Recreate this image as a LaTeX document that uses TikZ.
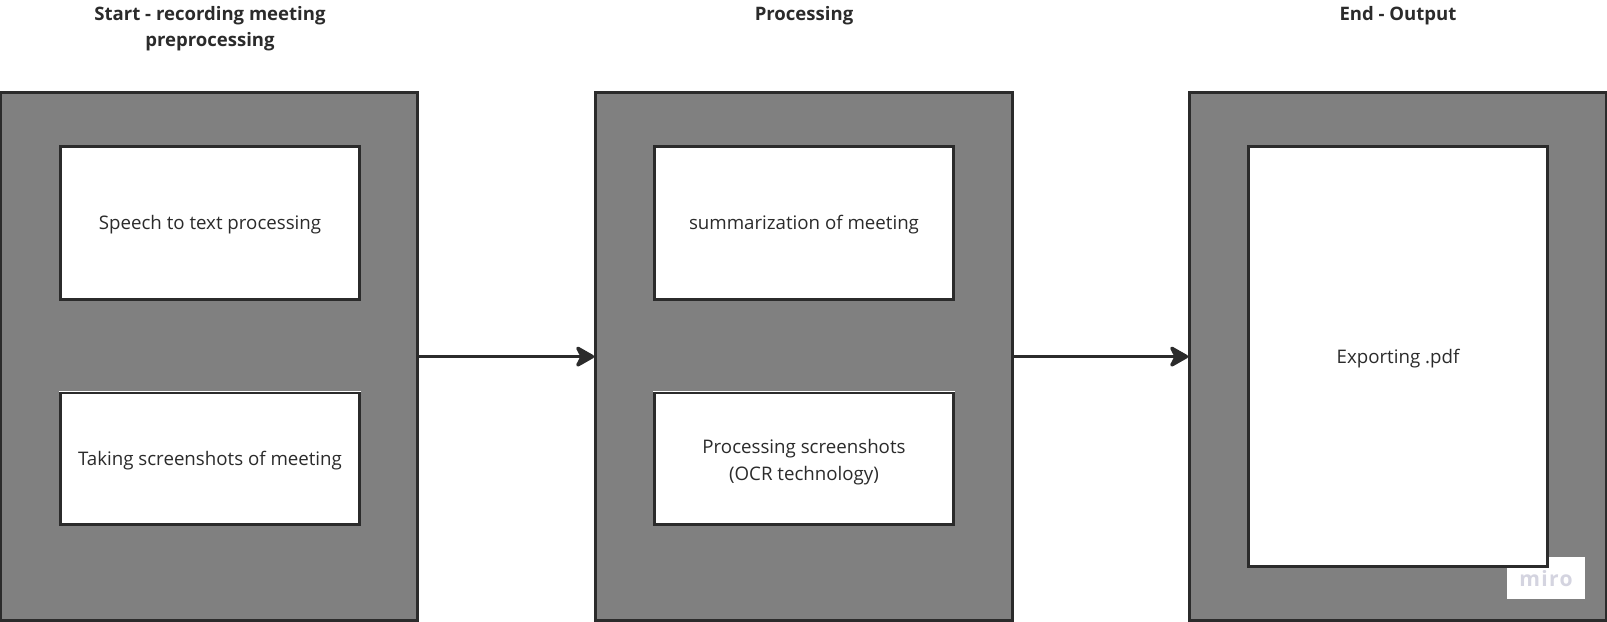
\documentclass[tikz,border=0pt]{standalone}
\usepackage{fontspec}
\setmainfont{Open Sans}
\definecolor{panelgray}{HTML}{808080}
\definecolor{inkdark}{HTML}{2B2B2B}
\definecolor{mirogray}{HTML}{D4D4E0}
\tikzset{
    panel/.style={draw=inkdark, fill=panelgray, line width=0.07cm, minimum width=10.42cm, minimum height=13.2cm},
    stepbox/.style={draw=inkdark, fill=white, line width=0.07cm, preaction={draw=white, line width=0.09cm}, align=center, minimum width=7.48cm, font=\fontsize{13.3}{18.9}\selectfont, text=inkdark},
    oneline/.style={text height=0.46cm, text depth=0.12cm},
    title/.style={align=center, font=\fontsize{13.2}{18.9}\selectfont\bfseries, text=inkdark},
    flow/.style={->, >={Stealth[length=0.55cm, width=0.62cm, inset=0.16cm, round]}, draw=inkdark, line width=0.085cm}
}
\usetikzlibrary{arrows.meta}
\begin{document}
\begin{tikzpicture}
    \useasboundingbox (0,0) rectangle (40.175,15.525);
    % Panels
    \node[panel] (start) at (5.23,6.61) {};
    \node[panel] (processing) at (20.1,6.61) {};
    \node[panel] (end) at (34.95,6.61) {};

    % Titles
    \node[title, anchor=north] (starttitle) at (5.25,15.5) {Start - recording meeting\\preprocessing};
    \node[title, anchor=north] (processingtitle) at (20.1,15.5) {Processing};
    \node[title, anchor=north] (endtitle) at (34.95,15.5) {End - Output};

    % Badge
    \node[fill=white, minimum width=1.95cm, minimum height=1.04cm, text=mirogray, font=\fontsize{15}{15}\selectfont\bfseries\addfontfeature{LetterSpace=6}] (miro) at (38.65,1.07) {miro};

    % Steps
    \node[stepbox, oneline, minimum height=3.83cm] (speech) at (5.25,9.95) {Speech to text processing};
    \node[stepbox, oneline, minimum height=3.28cm] (screenshots) at (5.25,4.06) {Taking screenshots of meeting};
    \node[stepbox, oneline, minimum height=3.83cm] (summary) at (20.1,9.95) {summarization of meeting};
    \node[stepbox, text height=1.2cm, minimum height=3.28cm] (ocr) at (20.1,4.06) {Processing screenshots\\(OCR technology)};
    \node[stepbox, oneline, minimum height=10.5cm] (export) at (34.95,6.61) {Exporting .pdf};

    % Transitions
    \draw[flow] (start) -- (processing);
    \draw[flow] (processing) -- (end);
\end{tikzpicture}
\end{document}
